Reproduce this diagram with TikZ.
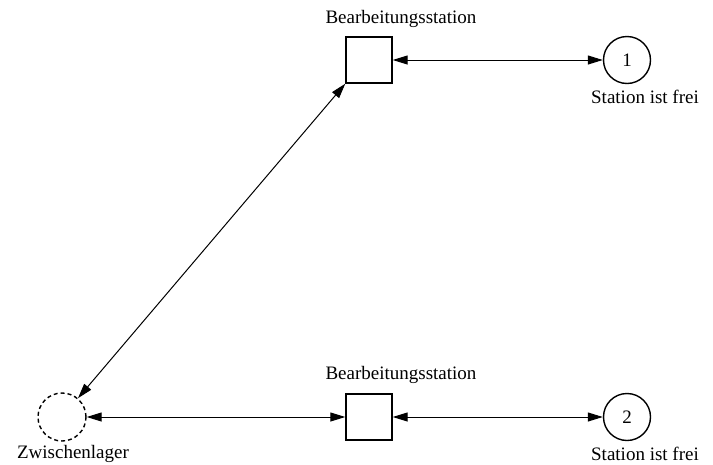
\documentclass[tikz,border=0pt]{standalone}
\usepackage{fontspec}
\setmainfont{Liberation Serif}
\usepackage{tikz}
\usetikzlibrary{arrows.meta,positioning}
\tikzset{
  stationbox/.style={rectangle,draw,minimum size=46pt,inner sep=0pt,line width=1.4pt},
  place/.style={circle,draw,minimum size=47pt,inner sep=0pt,line width=1.4pt},
  lager/.style={place,minimum size=48pt,dash pattern=on 4pt off 3pt},
  lbl/.style={font=\fontsize{19}{21}\selectfont},
}
\begin{document}
\begin{tikzpicture}[x=1pt,y=-1pt,>={Triangle[length=15pt,width=9pt]},line width=1pt,node distance=2pt]
  \useasboundingbox (0,0) rectangle (713,464);
  \node[stationbox] (S1) at (369,60) {};
  \node[stationbox] (S2) at (369,417) {};
  \node[place,lbl] (P1) at (627,60) {1};
  \node[place,lbl] (P2) at (627,417) {2};
  \node[lager] (Z) at (62,417) {};
  \draw[<->] (S1) -- (P1);
  \draw[<->] (S2) -- (P2);
  \draw[<->] (Z) -- (S2);
  \draw[<->] (Z) -- (S1.south west);
  \node[lbl,above=5pt of S1,xshift=32pt] (S1lbl) {Bearbeitungsstation};
  \node[lbl,above=6pt of S2,xshift=32pt] (S2lbl) {Bearbeitungsstation};
  \node[lbl,below=of P1,xshift=18pt] (P1lbl) {Station ist frei};
  \node[lbl,below=of P2,xshift=18pt] (P2lbl) {Station ist frei};
  \node[lbl,below=0pt of Z,xshift=11pt] (Zlbl) {Zwischenlager};
\end{tikzpicture}
\end{document}
